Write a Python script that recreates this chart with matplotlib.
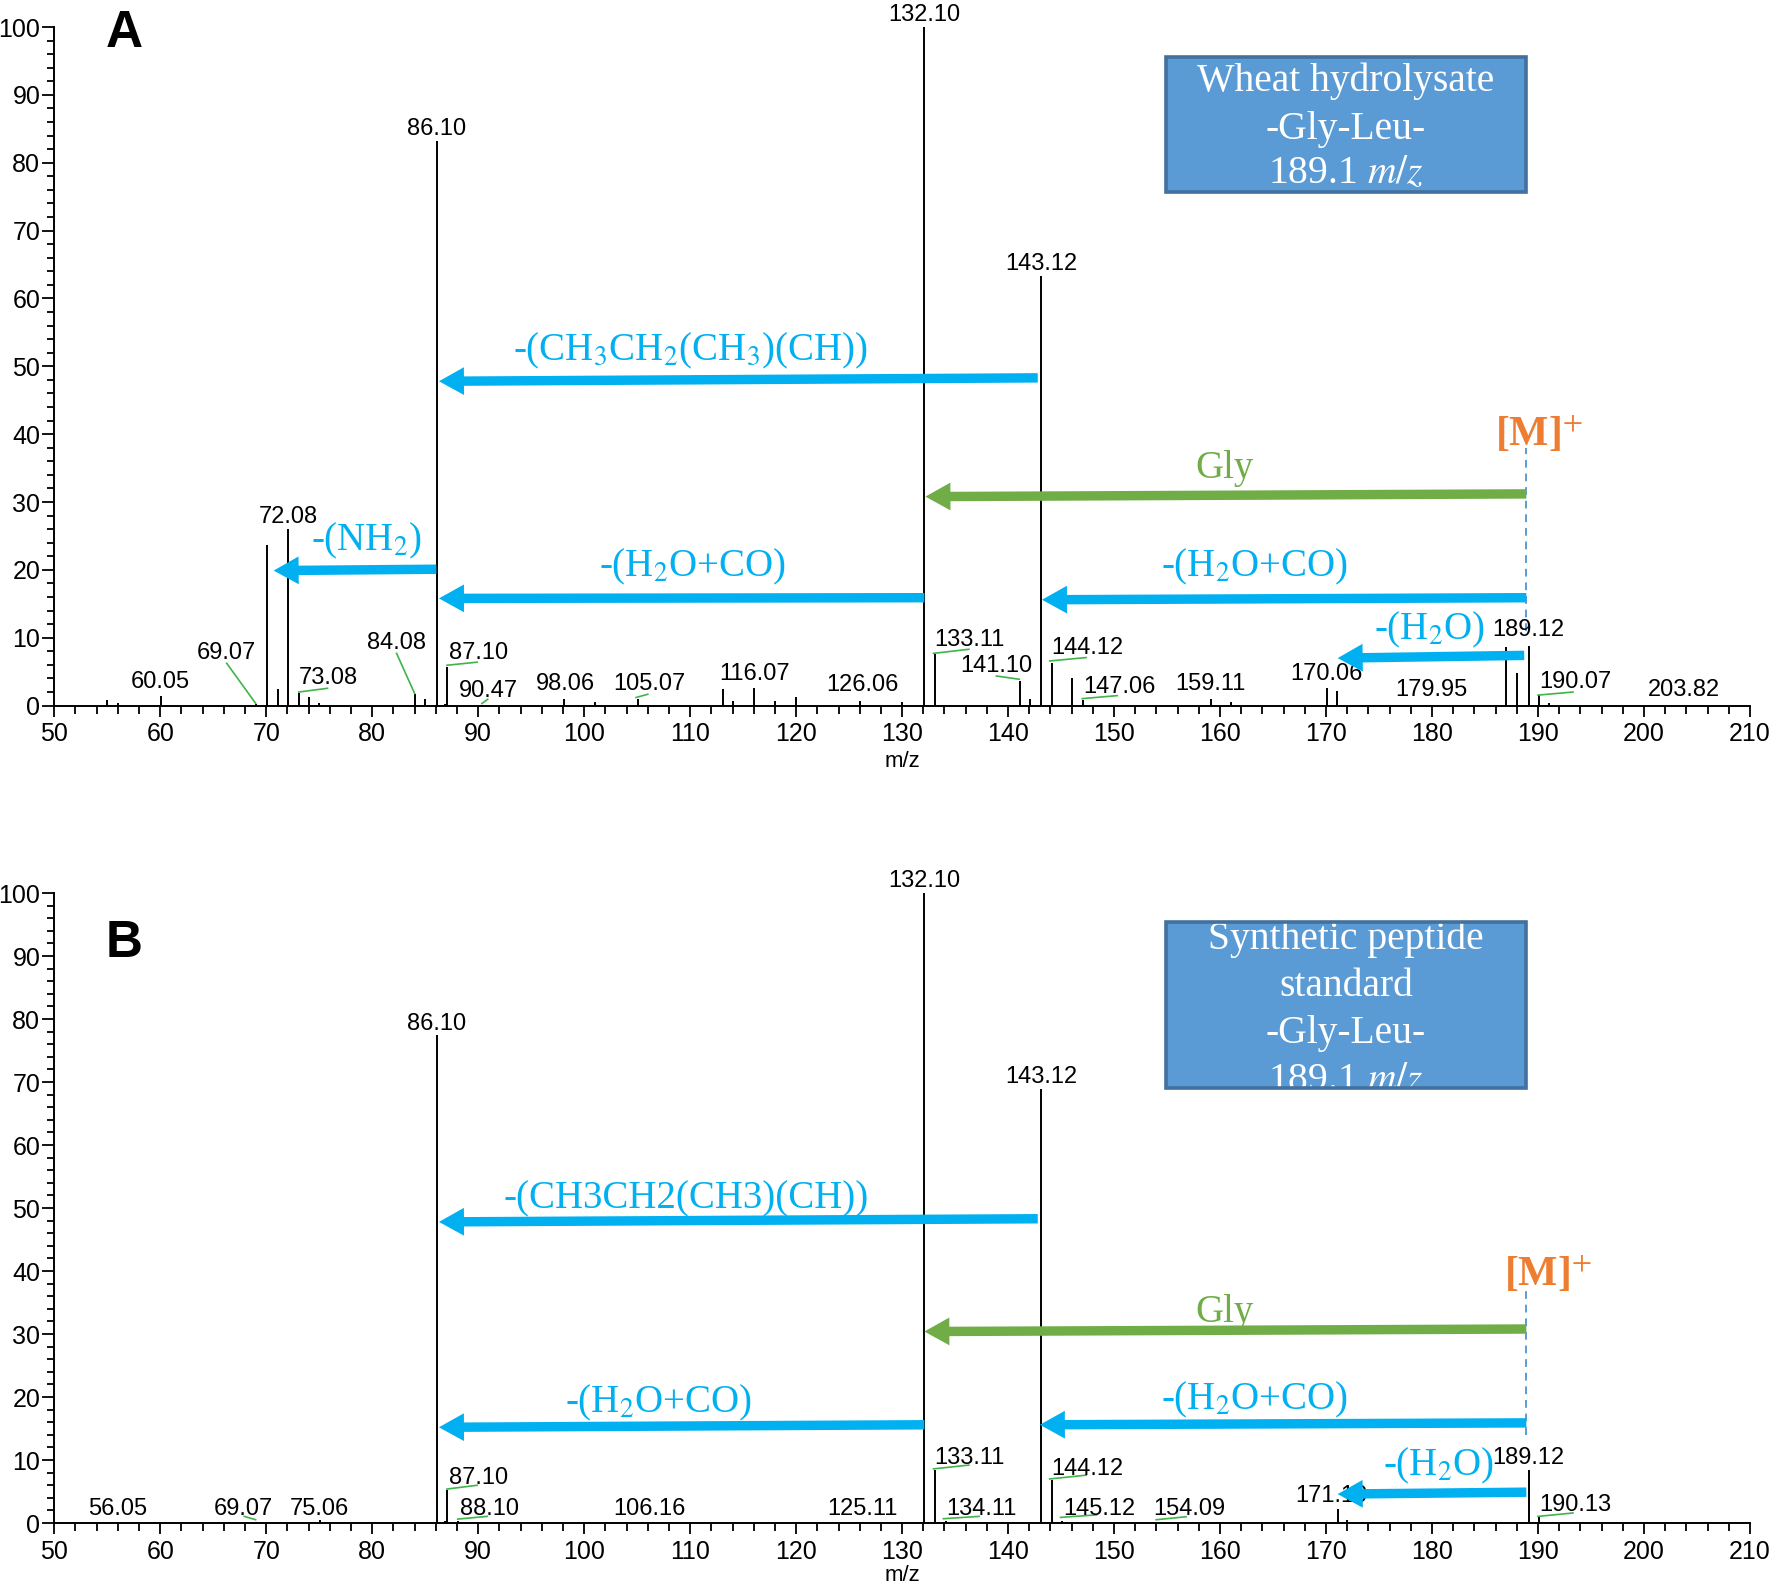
import matplotlib
matplotlib.use('Agg')
import matplotlib.pyplot as plt
from matplotlib.patches import FancyArrowPatch, Rectangle, ArrowStyle
from matplotlib.ticker import MultipleLocator

plt.rcParams['font.family'] = ['Liberation Sans', 'DejaVu Sans']
plt.rcParams['mathtext.fontset'] = 'stix'

# ---------------- Panel A data ----------------
mz_a = [55.0, 56.0, 60.05, 69.07, 70.07, 71.07, 72.08, 73.08, 74.0, 75.0, 84.08, 85.0,
        86.10, 86.9, 87.10, 90.47, 98.06, 101.0, 105.07, 113.07, 114.04, 116.07, 118.0,
        120.0, 126.06, 130.0, 132.10, 133.11, 141.10, 142.06, 143.12, 144.12, 146.0,
        147.06, 159.11, 161.0, 170.06, 171.04, 179.95, 187.0, 188.0, 189.12, 190.07,
        191.06, 203.82]
int_a = [0.84, 0.35, 1.4, 0.3, 23.7, 2.46, 26.0, 1.8, 1.2, 0.45, 1.67, 1.0,
         83.2, 0.25, 5.75, 0.15, 0.93, 0.5, 1.0, 2.4, 0.74, 2.65, 0.74,
         1.23, 0.74, 0.54, 100.0, 7.6, 3.6, 1.0, 63.3, 6.3, 4.1,
         0.84, 0.97, 0.48, 2.6, 2.2, 0.1, 8.65, 4.8, 8.8, 1.55,
         0.34, 0.1]

# labels directly above peaks
top_lab_a = ["132.10", "86.10", "143.12", "72.08"]
top_pos_a = [(132.10, 100.0), (86.10, 83.2), (143.12, 63.3), (72.08, 26.0)]
# free labels: text, x, y
lab_a = ["60.05", "69.07", "73.08", "84.08", "87.10", "90.47", "98.06", "105.07",
         "116.07", "126.06", "133.11", "141.10", "144.12", "147.06", "159.11",
         "170.06", "179.95", "189.12", "190.07", "203.82"]
lab_a_x = [60.0, 66.2, 75.9, 82.3, 90.0, 91.0, 98.2, 106.2, 116.1, 126.3, 136.4,
           138.9, 147.5, 150.5, 159.1, 170.0, 179.9, 189.1, 193.5, 203.8]
lab_a_y = [3.5, 7.8, 4.0, 9.3, 7.8, 2.2, 3.2, 3.2, 4.7, 3.0, 9.7,
           5.8, 8.5, 2.8, 3.2, 4.7, 2.3, 11.2, 3.5, 2.3]
# green leader lines (x0, y0, x1, y1)
lead_a = [(66.27, 6.24, 69.0, 0.34), (73.07, 2.0, 75.78, 2.55), (82.3, 7.7, 84.0, 1.8),
          (87.06, 5.95, 89.9, 6.4), (90.35, 0.3, 90.9, 0.93), (104.9, 1.2, 106.0, 1.67),
          (132.96, 7.7, 136.3, 8.3), (138.9, 4.37, 141.05, 3.88), (143.93, 6.58, 147.36, 7.08),
          (147.0, 1.03, 150.3, 1.47), (190.0, 1.55, 193.3, 2.0)]

# arrows: tail x, tail y, head x, head y, colour key
arr_a_tail_x = [142.8, 188.9, 132.1, 188.9, 86.05, 188.7]
arr_a_tail_y = [48.3, 31.2, 15.9, 15.9, 20.1, 7.4]
arr_a_head_x = [86.3, 132.2, 86.3, 143.2, 70.7, 171.1]
arr_a_head_y = [47.8, 30.8, 15.8, 15.6, 19.9, 7.0]
arr_a_col = ['b', 'g', 'b', 'b', 'b', 'b']
arr_a_text = ["-(CH$_3$CH$_2$(CH$_3$)(CH))", "Gly", "-(H$_2$O+CO)", "-(H$_2$O+CO)",
              "-(NH$_2$)", "-(H$_2$O)"]
arr_a_tx = [110.0, 160.4, 110.2, 163.3, 79.5, 179.8]
arr_a_ty = [52.3, 35.0, 20.5, 20.5, 24.3, 11.1]

# ---------------- Panel B data ----------------
mz_b = [56.05, 69.07, 75.06, 86.10, 86.9, 87.10, 88.10, 106.16, 125.11, 132.10, 133.11,
        134.11, 143.12, 144.12, 145.12, 154.09, 171.10, 172.0, 189.12, 190.13]
int_b = [0.2, 0.2, 0.5, 77.4, 0.4, 5.3, 0.3, 0.1, 0.1, 100.0, 8.5,
         0.3, 68.9, 6.9, 0.3, 0.2, 2.3, 0.5, 8.4, 1.2]

top_lab_b = ["132.10", "86.10", "143.12", "189.12"]
top_pos_b = [(132.10, 100.0), (86.10, 77.4), (143.12, 68.9), (189.12, 8.4)]
lab_b = ["56.05", "69.07", "75.06", "87.10", "88.10", "106.16", "125.11", "133.11",
         "134.11", "144.12", "145.12", "154.09", "171.10", "190.13"]
lab_b_x = [56.0, 67.8, 75.0, 90.0, 91.1, 106.2, 126.3, 136.4, 137.5, 147.5, 148.6,
           157.1, 170.5, 193.5]
lab_b_y = [2.2, 2.2, 2.3, 7.2, 2.2, 2.2, 2.2, 10.4, 2.2, 8.6, 2.2, 2.2, 4.3, 2.9]
lead_b = [(67.93, 1.06, 69.0, 0.53), (87.06, 5.4, 89.9, 6.0), (88.07, 0.63, 90.85, 1.06),
          (132.96, 8.6, 136.3, 9.2), (133.9, 0.69, 137.26, 1.06), (143.93, 7.0, 147.36, 7.6),
          (144.95, 0.9, 148.34, 1.3), (153.97, 0.53, 156.8, 1.0), (190.0, 1.06, 193.3, 1.6)]

arr_b_tail_x = [142.8, 188.9, 132.1, 188.9, 188.9]
arr_b_tail_y = [48.3, 30.8, 15.6, 15.9, 4.9]
arr_b_head_x = [86.3, 132.1, 86.3, 143.0, 171.1]
arr_b_head_y = [47.8, 30.4, 15.2, 15.6, 4.6]
arr_b_col = ['b', 'g', 'b', 'b', 'b']
arr_b_text = ["-(CH3CH2(CH3)(CH))", "Gly", "-(H$_2$O+CO)", "-(H$_2$O+CO)", "-(H$_2$O)"]
arr_b_tx = [109.6, 160.4, 107.0, 163.3, 180.6]
arr_b_ty = [51.5, 33.4, 19.0, 19.5, 9.1]

box_a_lines = ["Wheat hydrolysate", "-Gly-Leu-", "189.1 $m/z$"]
box_b_lines = ["Synthetic peptide", "standard", "-Gly-Leu-", "189.1 $m/z$"]

BLUE = '#00B0F0'
GREEN = '#70AD47'
ORANGE = '#ED7D31'
LEAD = '#3FB449'
COLS = {'b': BLUE, 'g': GREEN}

fig = plt.figure(figsize=(17.73, 15.91), dpi=100)
axA = fig.add_axes([0.0306, 0.5565, 0.9564, 0.4265])
axB = fig.add_axes([0.0306, 0.0427, 0.9564, 0.3960])

ARROW = ArrowStyle.Simple(head_length=18, head_width=20, tail_width=6.8)


def style(ax):
    ax.set_xlim(50, 210)
    ax.set_ylim(0, 100)
    for s in ['top', 'right']:
        ax.spines[s].set_visible(False)
    for s in ['left', 'bottom']:
        ax.spines[s].set_linewidth(1.4)
    ax.xaxis.set_major_locator(MultipleLocator(10))
    ax.xaxis.set_minor_locator(MultipleLocator(2))
    ax.yaxis.set_major_locator(MultipleLocator(10))
    ax.yaxis.set_minor_locator(MultipleLocator(2))
    ax.tick_params(axis='x', which='major', length=8, width=1.3, labelsize=18, pad=4)
    ax.tick_params(axis='x', which='minor', length=6, width=1.3)
    ax.tick_params(axis='y', which='major', length=9, width=1.3, labelsize=18, pad=1)
    ax.tick_params(axis='y', which='minor', length=5, width=1.3)
    ax.text(0.5, -0.083, 'm/z', transform=ax.transAxes, ha='center', va='center',
            fontsize=16)


def draw(ax, mz, inten, top_lab, top_pos, labs, lx, ly, leads,
         atx, aty, ahx, ahy, acol, atext, tx, ty, dash_y, mlabel_xy):
    style(ax)
    ax.vlines(mz, 0, inten, color='black', lw=1.4, zorder=2)
    for t, (x, y) in zip(top_lab, top_pos):
        ax.annotate(t, (x, y), xytext=(0, 0.5), textcoords='offset points',
                    ha='center', va='bottom', fontsize=17, annotation_clip=False)
    for t, x, y in zip(labs, lx, ly):
        ax.text(x, y, t, ha='center', va='center', fontsize=17)
    for (x0, y0, x1, y1) in leads:
        ax.plot([x0, x1], [y0, y1], color=LEAD, lw=1.2, zorder=2)
    ax.plot([188.9, 188.9], dash_y, color='#5B9BD5', lw=1.4, ls=(0, (4, 3)), zorder=1)
    for i in range(len(atx)):
        p = FancyArrowPatch((atx[i], aty[i]), (ahx[i], ahy[i]), arrowstyle=ARROW,
                            mutation_scale=1, color=COLS[acol[i]], lw=0,
                            shrinkA=0, shrinkB=0, zorder=5)
        ax.add_patch(p)
        ax.text(tx[i], ty[i], atext[i], ha='center', va='center', fontsize=28,
                family='Liberation Serif', color=COLS[acol[i]], zorder=6)
    ax.text(mlabel_xy[0], mlabel_xy[1], '[M]$^{+}$', ha='center', va='center',
            fontsize=30, family='Liberation Serif', fontweight='bold', color=ORANGE)


draw(axA, mz_a, int_a, top_lab_a, top_pos_a, lab_a, lab_a_x, lab_a_y, lead_a,
     arr_a_tail_x, arr_a_tail_y, arr_a_head_x, arr_a_head_y, arr_a_col, arr_a_text,
     arr_a_tx, arr_a_ty, [11, 38], (190.1, 40.0))
draw(axB, mz_b, int_b, top_lab_b, top_pos_b, lab_b, lab_b_x, lab_b_y, lead_b,
     arr_b_tail_x, arr_b_tail_y, arr_b_head_x, arr_b_head_y, arr_b_col, arr_b_text,
     arr_b_tx, arr_b_ty, [14, 37], (191.0, 39.5))

# panel letters
fig.text(124.5 / 1773, 1 - 47 / 1591, 'A', fontsize=37, fontweight='bold',
         ha='center', va='baseline')
fig.text(124.5 / 1773, 1 - 957 / 1591, 'B', fontsize=37, fontweight='bold',
         ha='center', va='baseline')


def text_box(x0, y0, x1, y1, lines, ys):
    W, H = 1773.0, 1591.0
    fill = Rectangle((x0 / W, 1 - y1 / H), (x1 - x0) / W, (y1 - y0) / H,
                     transform=fig.transFigure, facecolor='#5B9BD5', edgecolor='none',
                     zorder=1)
    fig.add_artist(fill)
    for t, y in zip(lines, ys):
        txt = fig.text((x0 + x1) / 2 / W, 1 - y / H, t, ha='center', va='center',
                       fontsize=28.5, family='Liberation Serif', color='white', zorder=2)
        txt.set_clip_path(fill)
    border = Rectangle((x0 / W, 1 - y1 / H), (x1 - x0) / W, (y1 - y0) / H,
                       transform=fig.transFigure, facecolor='none', edgecolor='#41719C',
                       lw=2.6, zorder=3)
    fig.add_artist(border)


text_box(1166, 57, 1526, 192, box_a_lines, [81, 129, 174])
text_box(1166, 922, 1526, 1088, box_b_lines, [939, 986, 1034, 1081])

fig.savefig('out.png', dpi=100)
